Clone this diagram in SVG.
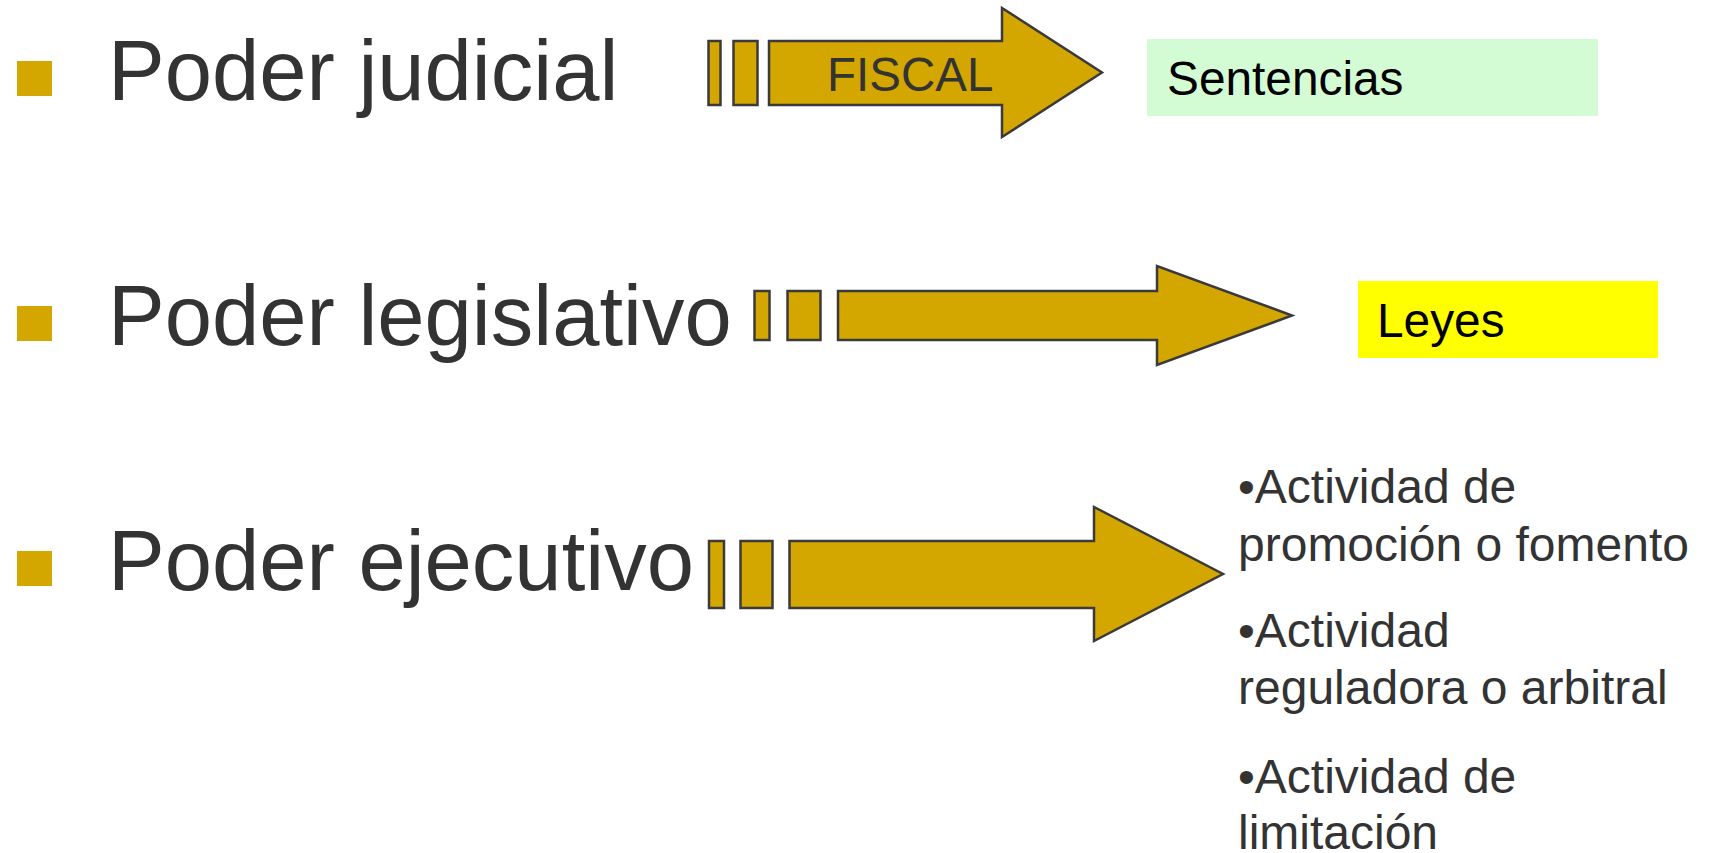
<svg xmlns="http://www.w3.org/2000/svg" width="1709" height="853" viewBox="0 0 1709 853">
<style>
.bul{fill:#D4A700}
.lbl{font-family:"Liberation Sans",Arial,sans-serif;font-size:85px;fill:#333333}
.arw{fill:#D4A700;stroke:#3a3a3a;stroke-width:2.5;stroke-linejoin:miter}
.box{font-family:"Liberation Sans",Arial,sans-serif;font-size:47.8px;fill:#000000}
.fis{font-family:"Liberation Sans",Arial,sans-serif;font-size:47.5px;fill:#333333}
.act{font-family:"Liberation Sans",Arial,sans-serif;font-size:48px;fill:#333333}
</style>
<rect width="1709" height="853" fill="#ffffff"/>
<g id="judicial">
<rect class="bul" x="17" y="61" width="35" height="35"/>
<text class="lbl" x="108" y="100">Poder judicial</text>
</g>
<g id="legislativo">
<rect class="bul" x="17" y="306" width="35" height="35"/>
<text class="lbl" x="108" y="345">Poder legislativo</text>
</g>
<g id="ejecutivo">
<rect class="bul" x="17" y="551" width="35" height="35"/>
<text class="lbl" x="108" y="590">Poder ejecutivo</text>
</g>
<g id="connectors">
<g id="arrow-judicial">
<rect class="arw" x="708.5" y="41" width="12" height="64"/>
<rect class="arw" x="733.5" y="41" width="24" height="64"/>
<polygon class="arw" points="769,41 1002,41 1002,8 1102,72.5 1002,137 1002,105 769,105"/>
<text class="fis" x="827" y="91">FISCAL</text>
</g>
<g id="arrow-legislativo">
<rect class="arw" x="754.5" y="291" width="15" height="49"/>
<rect class="arw" x="787.5" y="291" width="33" height="49"/>
<polygon class="arw" points="838,291 1157,291 1157,266 1292,315.5 1157,365 1157,340 838,340"/>
</g>
<g id="arrow-ejecutivo">
<rect class="arw" x="709" y="541" width="15" height="67"/>
<rect class="arw" x="740.5" y="541" width="32" height="67"/>
<polygon class="arw" points="789.5,541 1094,541 1094,507 1223,574 1094,641 1094,608 789.5,608"/>
</g>
</g>
<g id="sentencias">
<rect x="1147" y="39" width="451" height="77" fill="#D4FCD4"/>
<text class="box" x="1167" y="95">Sentencias</text>
</g>
<g id="leyes">
<rect x="1358" y="281" width="300" height="77" fill="#FFFF00"/>
<text class="box" x="1377" y="337">Leyes</text>
</g>
<g id="actividades">
<text class="act" x="1238" y="503">•Actividad de</text>
<text class="act" x="1238" y="561">promoción o fomento</text>
<text class="act" x="1238" y="647">•Actividad</text>
<text class="act" x="1238" y="704">reguladora o arbitral</text>
<text class="act" x="1238" y="793">•Actividad de</text>
<text class="act" x="1238" y="849">limitación</text>
</g>
</svg>
